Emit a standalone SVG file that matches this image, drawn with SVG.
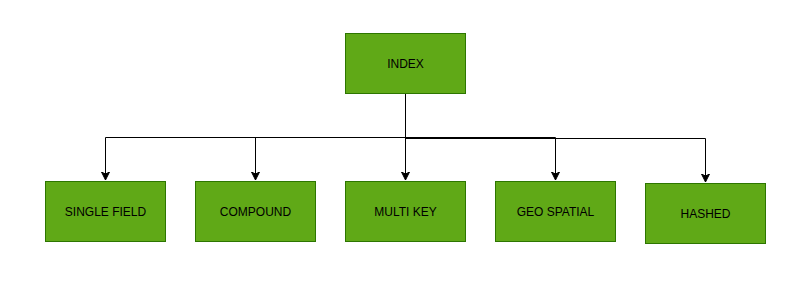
<svg xmlns="http://www.w3.org/2000/svg" width="809" height="284" viewBox="0 0 809 284">
<style>
.box{fill:#60a917;stroke:#2d7600;stroke-width:1}
.lbl{font-family:"Liberation Sans",Arial,sans-serif;font-size:12px;fill:#000;text-anchor:middle;dominant-baseline:central}
.edge{fill:none;stroke:#000;stroke-width:1}
</style>
<defs>
<marker id="arr" markerWidth="10" markerHeight="10" refX="8" refY="4" orient="auto" markerUnits="userSpaceOnUse" viewBox="0 0 10 8">
<path d="M0,0 L8,4 L0,8 L2,4 Z" fill="#000" stroke="#000" stroke-width="1"/>
</marker>
</defs>
<rect width="809" height="284" fill="#fff"/>
<g id="connectors">
<path class="edge" d="M405.5,93.5 V137.5 H105.5 V180" marker-end="url(#arr)"/>
<path class="edge" d="M405.5,93.5 V137.5 H255.5 V180" marker-end="url(#arr)"/>
<path class="edge" d="M405.5,93.5 V180" marker-end="url(#arr)"/>
<path class="edge" d="M405.5,93.5 V137.5 H555.5 V180" marker-end="url(#arr)"/>
<path class="edge" d="M405.5,93.5 V138.5 H705.5 V182" marker-end="url(#arr)"/>
</g>
<g id="index"><rect class="box" x="345.5" y="33.5" width="120" height="60"/><text class="lbl" x="405.5" y="63.5">INDEX</text></g>
<g id="single-field"><rect class="box" x="45.5" y="181.5" width="120" height="60"/><text class="lbl" x="105.5" y="211.5">SINGLE FIELD</text></g>
<g id="compound"><rect class="box" x="195.5" y="181.5" width="120" height="60"/><text class="lbl" x="255.5" y="211.5">COMPOUND</text></g>
<g id="multi-key"><rect class="box" x="345.5" y="181.5" width="120" height="60"/><text class="lbl" x="405.5" y="211.5">MULTI KEY</text></g>
<g id="geo-spatial"><rect class="box" x="495.5" y="181.5" width="120" height="60"/><text class="lbl" x="555.5" y="211.5">GEO SPATIAL</text></g>
<g id="hashed"><rect class="box" x="645.5" y="183.5" width="120" height="60"/><text class="lbl" x="705.5" y="213.5">HASHED</text></g>
</svg>
